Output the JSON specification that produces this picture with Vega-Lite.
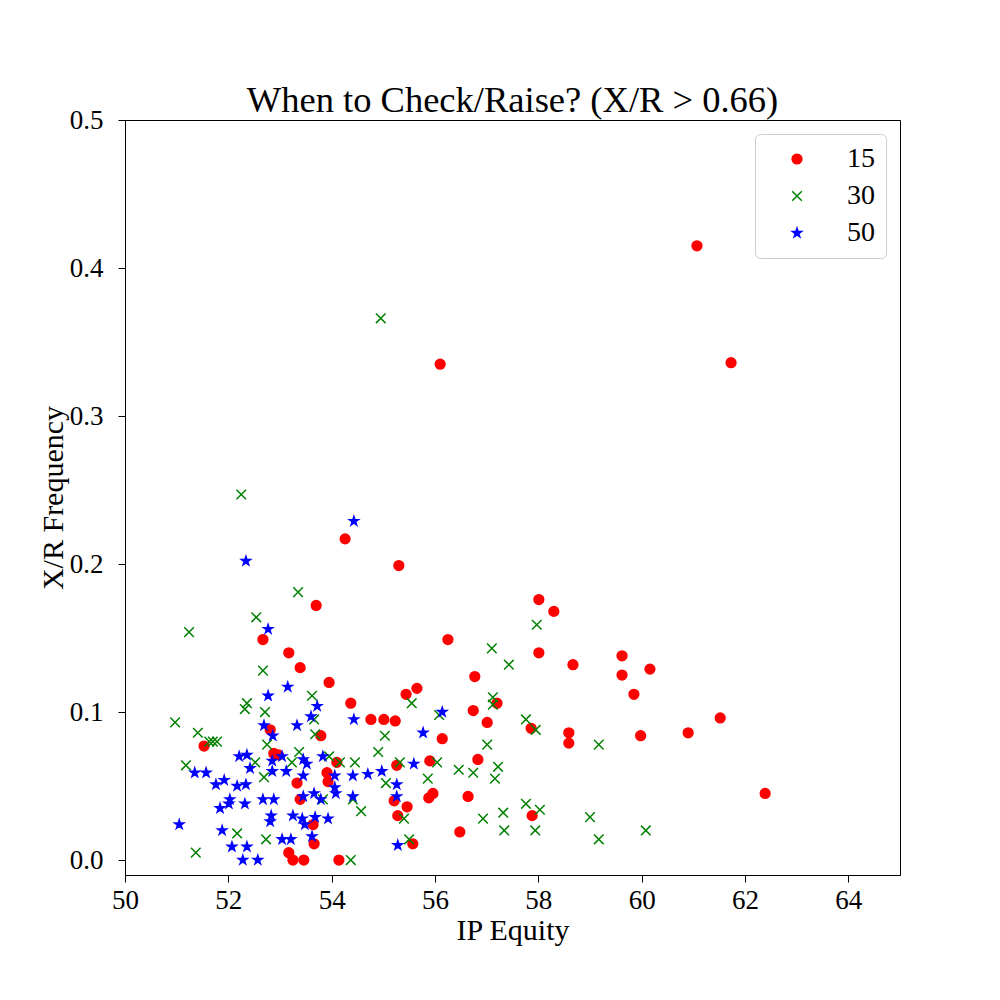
{
  "$schema": "https://vega.github.io/schema/vega-lite/v6.json",
  "autosize": "none",
  "width": 775,
  "height": 755,
  "padding": {"left": 125, "top": 120, "right": 100, "bottom": 125},
  "background": "white",
  "config": {
    "font": "Liberation Serif",
    "view": {"stroke": "black", "strokeWidth": 1},
    "axis": {"grid": false, "domainColor": "black", "tickColor": "black", "tickSize": 7, "labelColor": "black", "titleColor": "black", "labelFontSize": 27, "titleFontSize": 30, "titleFontWeight": "normal", "labelFont": "Liberation Serif", "titleFont": "Liberation Serif", "labelFlush": false}
  },
  "title": {"text": "When to Check/Raise? (X/R > 0.66)", "fontSize": 36.5, "fontWeight": "normal", "font": "Liberation Serif", "color": "black", "offset": -13},
  "data": {"values": [
    {"equity": 61.07, "freq": 0.415, "temp": "15"},
    {"equity": 61.73, "freq": 0.336, "temp": "15"},
    {"equity": 56.10, "freq": 0.335, "temp": "15"},
    {"equity": 54.26, "freq": 0.217, "temp": "15"},
    {"equity": 55.30, "freq": 0.199, "temp": "15"},
    {"equity": 53.70, "freq": 0.172, "temp": "15"},
    {"equity": 58.01, "freq": 0.176, "temp": "15"},
    {"equity": 58.30, "freq": 0.168, "temp": "15"},
    {"equity": 56.25, "freq": 0.149, "temp": "15"},
    {"equity": 52.67, "freq": 0.149, "temp": "15"},
    {"equity": 53.17, "freq": 0.140, "temp": "15"},
    {"equity": 58.01, "freq": 0.140, "temp": "15"},
    {"equity": 53.39, "freq": 0.130, "temp": "15"},
    {"equity": 58.67, "freq": 0.132, "temp": "15"},
    {"equity": 59.62, "freq": 0.138, "temp": "15"},
    {"equity": 60.16, "freq": 0.129, "temp": "15"},
    {"equity": 59.62, "freq": 0.125, "temp": "15"},
    {"equity": 56.77, "freq": 0.124, "temp": "15"},
    {"equity": 53.95, "freq": 0.120, "temp": "15"},
    {"equity": 59.85, "freq": 0.112, "temp": "15"},
    {"equity": 55.65, "freq": 0.116, "temp": "15"},
    {"equity": 55.44, "freq": 0.112, "temp": "15"},
    {"equity": 54.37, "freq": 0.106, "temp": "15"},
    {"equity": 57.20, "freq": 0.106, "temp": "15"},
    {"equity": 56.74, "freq": 0.101, "temp": "15"},
    {"equity": 54.76, "freq": 0.095, "temp": "15"},
    {"equity": 55.01, "freq": 0.095, "temp": "15"},
    {"equity": 55.23, "freq": 0.094, "temp": "15"},
    {"equity": 61.52, "freq": 0.096, "temp": "15"},
    {"equity": 57.01, "freq": 0.093, "temp": "15"},
    {"equity": 60.90, "freq": 0.086, "temp": "15"},
    {"equity": 58.59, "freq": 0.086, "temp": "15"},
    {"equity": 59.98, "freq": 0.084, "temp": "15"},
    {"equity": 57.86, "freq": 0.089, "temp": "15"},
    {"equity": 56.14, "freq": 0.082, "temp": "15"},
    {"equity": 53.79, "freq": 0.084, "temp": "15"},
    {"equity": 51.53, "freq": 0.077, "temp": "15"},
    {"equity": 58.59, "freq": 0.079, "temp": "15"},
    {"equity": 52.81, "freq": 0.088, "temp": "15"},
    {"equity": 52.88, "freq": 0.072, "temp": "15"},
    {"equity": 52.97, "freq": 0.071, "temp": "15"},
    {"equity": 53.33, "freq": 0.052, "temp": "15"},
    {"equity": 53.39, "freq": 0.041, "temp": "15"},
    {"equity": 53.91, "freq": 0.059, "temp": "15"},
    {"equity": 53.93, "freq": 0.053, "temp": "15"},
    {"equity": 54.10, "freq": 0.066, "temp": "15"},
    {"equity": 53.64, "freq": 0.024, "temp": "15"},
    {"equity": 53.66, "freq": 0.011, "temp": "15"},
    {"equity": 53.17, "freq": 0.005, "temp": "15"},
    {"equity": 53.25, "freq": 0.000, "temp": "15"},
    {"equity": 53.46, "freq": 0.000, "temp": "15"},
    {"equity": 54.14, "freq": 0.000, "temp": "15"},
    {"equity": 55.26, "freq": 0.064, "temp": "15"},
    {"equity": 55.21, "freq": 0.040, "temp": "15"},
    {"equity": 55.46, "freq": 0.036, "temp": "15"},
    {"equity": 55.28, "freq": 0.030, "temp": "15"},
    {"equity": 55.57, "freq": 0.011, "temp": "15"},
    {"equity": 55.90, "freq": 0.067, "temp": "15"},
    {"equity": 55.96, "freq": 0.045, "temp": "15"},
    {"equity": 55.88, "freq": 0.042, "temp": "15"},
    {"equity": 56.83, "freq": 0.068, "temp": "15"},
    {"equity": 56.64, "freq": 0.043, "temp": "15"},
    {"equity": 57.88, "freq": 0.030, "temp": "15"},
    {"equity": 56.48, "freq": 0.019, "temp": "15"},
    {"equity": 62.39, "freq": 0.045, "temp": "15"},

    {"equity": 54.95, "freq": 0.366, "temp": "30"},
    {"equity": 52.25, "freq": 0.247, "temp": "30"},
    {"equity": 53.35, "freq": 0.181, "temp": "30"},
    {"equity": 52.54, "freq": 0.164, "temp": "30"},
    {"equity": 51.24, "freq": 0.154, "temp": "30"},
    {"equity": 52.67, "freq": 0.128, "temp": "30"},
    {"equity": 53.62, "freq": 0.111, "temp": "30"},
    {"equity": 57.97, "freq": 0.159, "temp": "30"},
    {"equity": 57.10, "freq": 0.143, "temp": "30"},
    {"equity": 57.43, "freq": 0.132, "temp": "30"},
    {"equity": 55.55, "freq": 0.106, "temp": "30"},
    {"equity": 57.12, "freq": 0.110, "temp": "30"},
    {"equity": 57.12, "freq": 0.105, "temp": "30"},
    {"equity": 56.08, "freq": 0.098, "temp": "30"},
    {"equity": 57.76, "freq": 0.095, "temp": "30"},
    {"equity": 57.95, "freq": 0.088, "temp": "30"},
    {"equity": 57.01, "freq": 0.078, "temp": "30"},
    {"equity": 59.17, "freq": 0.078, "temp": "30"},
    {"equity": 55.32, "freq": 0.066, "temp": "30"},
    {"equity": 56.04, "freq": 0.066, "temp": "30"},
    {"equity": 56.46, "freq": 0.061, "temp": "30"},
    {"equity": 56.74, "freq": 0.059, "temp": "30"},
    {"equity": 57.22, "freq": 0.063, "temp": "30"},
    {"equity": 57.16, "freq": 0.055, "temp": "30"},
    {"equity": 55.86, "freq": 0.055, "temp": "30"},
    {"equity": 57.76, "freq": 0.038, "temp": "30"},
    {"equity": 58.03, "freq": 0.034, "temp": "30"},
    {"equity": 57.32, "freq": 0.032, "temp": "30"},
    {"equity": 56.93, "freq": 0.028, "temp": "30"},
    {"equity": 59.00, "freq": 0.029, "temp": "30"},
    {"equity": 55.40, "freq": 0.028, "temp": "30"},
    {"equity": 57.34, "freq": 0.020, "temp": "30"},
    {"equity": 57.94, "freq": 0.020, "temp": "30"},
    {"equity": 59.17, "freq": 0.014, "temp": "30"},
    {"equity": 60.08, "freq": 0.020, "temp": "30"},
    {"equity": 55.50, "freq": 0.014, "temp": "30"},
    {"equity": 50.97, "freq": 0.093, "temp": "30"},
    {"equity": 51.41, "freq": 0.086, "temp": "30"},
    {"equity": 51.63, "freq": 0.080, "temp": "30"},
    {"equity": 51.70, "freq": 0.080, "temp": "30"},
    {"equity": 51.78, "freq": 0.080, "temp": "30"},
    {"equity": 51.18, "freq": 0.064, "temp": "30"},
    {"equity": 52.32, "freq": 0.102, "temp": "30"},
    {"equity": 52.36, "freq": 0.106, "temp": "30"},
    {"equity": 52.71, "freq": 0.100, "temp": "30"},
    {"equity": 53.66, "freq": 0.095, "temp": "30"},
    {"equity": 53.68, "freq": 0.085, "temp": "30"},
    {"equity": 52.75, "freq": 0.078, "temp": "30"},
    {"equity": 53.37, "freq": 0.073, "temp": "30"},
    {"equity": 53.23, "freq": 0.066, "temp": "30"},
    {"equity": 52.52, "freq": 0.066, "temp": "30"},
    {"equity": 52.69, "freq": 0.056, "temp": "30"},
    {"equity": 53.95, "freq": 0.070, "temp": "30"},
    {"equity": 54.16, "freq": 0.066, "temp": "30"},
    {"equity": 54.45, "freq": 0.066, "temp": "30"},
    {"equity": 54.90, "freq": 0.073, "temp": "30"},
    {"equity": 55.03, "freq": 0.084, "temp": "30"},
    {"equity": 55.05, "freq": 0.052, "temp": "30"},
    {"equity": 53.83, "freq": 0.041, "temp": "30"},
    {"equity": 54.41, "freq": 0.041, "temp": "30"},
    {"equity": 54.57, "freq": 0.033, "temp": "30"},
    {"equity": 52.17, "freq": 0.018, "temp": "30"},
    {"equity": 52.73, "freq": 0.014, "temp": "30"},
    {"equity": 51.37, "freq": 0.005, "temp": "30"},
    {"equity": 54.37, "freq": 0.000, "temp": "30"},

    {"equity": 54.43, "freq": 0.229, "temp": "50"},
    {"equity": 52.34, "freq": 0.202, "temp": "50"},
    {"equity": 52.77, "freq": 0.156, "temp": "50"},
    {"equity": 53.15, "freq": 0.117, "temp": "50"},
    {"equity": 52.77, "freq": 0.111, "temp": "50"},
    {"equity": 53.72, "freq": 0.104, "temp": "50"},
    {"equity": 53.60, "freq": 0.097, "temp": "50"},
    {"equity": 53.33, "freq": 0.091, "temp": "50"},
    {"equity": 52.69, "freq": 0.091, "temp": "50"},
    {"equity": 52.86, "freq": 0.084, "temp": "50"},
    {"equity": 54.43, "freq": 0.095, "temp": "50"},
    {"equity": 56.14, "freq": 0.100, "temp": "50"},
    {"equity": 55.77, "freq": 0.086, "temp": "50"},
    {"equity": 55.59, "freq": 0.065, "temp": "50"},
    {"equity": 53.83, "freq": 0.070, "temp": "50"},
    {"equity": 53.45, "freq": 0.068, "temp": "50"},
    {"equity": 53.52, "freq": 0.065, "temp": "50"},
    {"equity": 53.45, "freq": 0.057, "temp": "50"},
    {"equity": 53.04, "freq": 0.070, "temp": "50"},
    {"equity": 52.85, "freq": 0.067, "temp": "50"},
    {"equity": 52.85, "freq": 0.060, "temp": "50"},
    {"equity": 53.12, "freq": 0.060, "temp": "50"},
    {"equity": 52.21, "freq": 0.070, "temp": "50"},
    {"equity": 52.36, "freq": 0.071, "temp": "50"},
    {"equity": 52.42, "freq": 0.062, "temp": "50"},
    {"equity": 51.35, "freq": 0.059, "temp": "50"},
    {"equity": 51.57, "freq": 0.059, "temp": "50"},
    {"equity": 51.76, "freq": 0.051, "temp": "50"},
    {"equity": 51.92, "freq": 0.054, "temp": "50"},
    {"equity": 52.17, "freq": 0.050, "temp": "50"},
    {"equity": 52.34, "freq": 0.051, "temp": "50"},
    {"equity": 52.67, "freq": 0.041, "temp": "50"},
    {"equity": 52.88, "freq": 0.041, "temp": "50"},
    {"equity": 52.03, "freq": 0.041, "temp": "50"},
    {"equity": 52.01, "freq": 0.038, "temp": "50"},
    {"equity": 51.84, "freq": 0.035, "temp": "50"},
    {"equity": 52.32, "freq": 0.038, "temp": "50"},
    {"equity": 52.83, "freq": 0.030, "temp": "50"},
    {"equity": 52.81, "freq": 0.026, "temp": "50"},
    {"equity": 51.05, "freq": 0.024, "temp": "50"},
    {"equity": 51.88, "freq": 0.020, "temp": "50"},
    {"equity": 52.07, "freq": 0.009, "temp": "50"},
    {"equity": 52.36, "freq": 0.009, "temp": "50"},
    {"equity": 52.28, "freq": 0.000, "temp": "50"},
    {"equity": 52.57, "freq": 0.000, "temp": "50"},
    {"equity": 53.04, "freq": 0.014, "temp": "50"},
    {"equity": 53.21, "freq": 0.014, "temp": "50"},
    {"equity": 53.25, "freq": 0.030, "temp": "50"},
    {"equity": 53.43, "freq": 0.028, "temp": "50"},
    {"equity": 53.48, "freq": 0.024, "temp": "50"},
    {"equity": 53.68, "freq": 0.029, "temp": "50"},
    {"equity": 53.93, "freq": 0.028, "temp": "50"},
    {"equity": 53.62, "freq": 0.016, "temp": "50"},
    {"equity": 53.45, "freq": 0.043, "temp": "50"},
    {"equity": 53.66, "freq": 0.045, "temp": "50"},
    {"equity": 53.79, "freq": 0.041, "temp": "50"},
    {"equity": 54.08, "freq": 0.045, "temp": "50"},
    {"equity": 54.06, "freq": 0.049, "temp": "50"},
    {"equity": 54.06, "freq": 0.057, "temp": "50"},
    {"equity": 54.41, "freq": 0.057, "temp": "50"},
    {"equity": 54.70, "freq": 0.058, "temp": "50"},
    {"equity": 54.97, "freq": 0.060, "temp": "50"},
    {"equity": 55.26, "freq": 0.051, "temp": "50"},
    {"equity": 55.26, "freq": 0.043, "temp": "50"},
    {"equity": 55.28, "freq": 0.010, "temp": "50"},
    {"equity": 54.41, "freq": 0.043, "temp": "50"}
  ]},
  "mark": {"type": "point", "filled": true, "strokeWidth": 1.5, "opacity": 1},
  "encoding": {
    "x": {"field": "equity", "type": "quantitative", "title": "IP Equity",
      "scale": {"domain": [50, 65], "nice": false, "zero": false},
      "axis": {"values": [50, 52, 54, 56, 58, 60, 62, 64], "format": "d", "labelPadding": 5, "titlePadding": 2}},
    "y": {"field": "freq", "type": "quantitative", "title": "X/R Frequency",
      "scale": {"domain": [-0.0101, 0.5], "nice": false, "zero": false},
      "axis": {"values": [0, 0.1, 0.2, 0.3, 0.4, 0.5], "format": ".1f", "labelPadding": 15, "titlePadding": 1}},
    "color": {"field": "temp", "type": "nominal", "title": null,
      "scale": {"domain": ["15", "30", "50"], "range": ["#ff0000", "#008000", "#0000ff"]},
      "legend": {"orient": "top-right", "offset": 14, "strokeColor": "#cccccc", "cornerRadius": 5, "fillColor": "white", "padding": 11, "symbolOffset": 17, "labelFontSize": 28, "labelFont": "Liberation Serif", "labelColor": "black", "labelOffset": 36, "symbolSize": 100, "rowPadding": 9, "symbolStrokeWidth": 1.5}},
    "stroke": {"field": "temp", "type": "nominal", "title": null,
      "scale": {"domain": ["15", "30", "50"], "range": ["#ff0000", "#008000", "#0000ff"]}},
    "shape": {"field": "temp", "type": "nominal", "title": null,
      "scale": {"domain": ["15", "30", "50"], "range": ["circle", "M-1,-1L1,1M-1,1L1,-1", "M0,-1L0.225,-0.309L0.951,-0.309L0.363,0.118L0.588,0.809L0,0.382L-0.588,0.809L-0.363,0.118L-0.951,-0.309L-0.225,-0.309Z"]}},
    "size": {"field": "temp", "type": "nominal", "legend": null,
      "scale": {"domain": ["15", "30", "50"], "range": [95, 90, 150]}}
  }
}
